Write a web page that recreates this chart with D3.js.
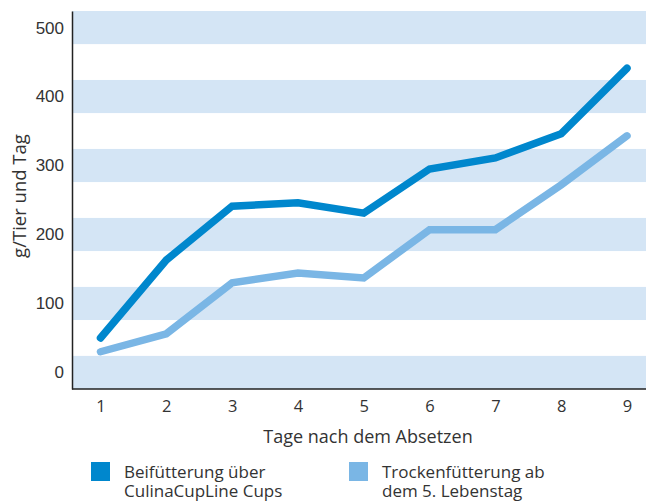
<!DOCTYPE html>
<html>
<head>
<meta charset="utf-8">
<script src="https://cdn.jsdelivr.net/npm/d3@7"></script>
<style>
  body { margin: 0; background: #fff; }
  svg text { fill: #333; }
</style>
</head>
<body>
<svg id="chart" width="647" height="501"></svg>
<script>
"use strict";

// values
const days = [1, 2, 3, 4, 5, 6, 7, 8, 9];
const beifuetterung = [50, 163, 241, 246, 231, 295, 311, 346, 441];
const trockenfuetterung = [30, 56, 130, 144, 137, 207, 207, 272, 343];
const yTicks = [0, 100, 200, 300, 400, 500];
const seriesNames = [["Beifütterung über", "CulinaCupLine Cups"],
                     ["Trockenfütterung ab", "dem 5. Lebenstag"]];
const seriesColors = ["#0087cd", "#7ab6e5"];

const plotLeft = 72, plotRight = 646, plotTop = 11, plotBottom = 389;
const bandHalf = 24;

const svg = d3.select("#chart");

const xScale = d3.scaleLinear().domain([1, 9]).range([100.5, 627]);
const yScale = d3.scaleLinear().domain([-bandHalf, 500 + bandHalf]).range([plotBottom, plotTop]);

// horizontal stripes centred on the ticks
svg.append("g").selectAll("rect")
    .data(yTicks)
    .join("rect")
    .attr("x", plotLeft)
    .attr("width", plotRight - plotLeft)
    .attr("y", v => yScale(v + bandHalf))
    .attr("height", v => yScale(v - bandHalf) - yScale(v + bandHalf))
    .attr("fill", "#d4e5f5");

// lines
const line = d3.line()
    .x((d, i) => xScale(days[i]))
    .y(d => yScale(d));

[beifuetterung, trockenfuetterung].forEach(function(series, i) {
    svg.append("path")
        .datum(series)
        .attr("d", line)
        .attr("fill", "none")
        .attr("stroke", seriesColors[i])
        .attr("stroke-width", 7.5)
        .attr("stroke-linejoin", "miter")
        .attr("stroke-linecap", "round");
});

// y axis
const yAxis = svg.append("g")
    .attr("transform", "translate(" + plotLeft + ",0)")
    .call(d3.axisLeft(yScale).tickValues(yTicks).tickSize(0).tickPadding(8).tickSizeOuter(0));
yAxis.select(".domain").attr("stroke", "#222").attr("stroke-width", 1.5);
yAxis.selectAll("text")
    .style("font-family", "'Liberation Sans', Arial, sans-serif")
    .style("font-size", "17px")
    .style("fill", "#333");

// x axis
const xAxis = svg.append("g")
    .attr("transform", "translate(0," + plotBottom + ")")
    .call(d3.axisBottom(xScale).tickValues(days).tickSize(0).tickPadding(11));
xAxis.select(".domain").remove();
xAxis.selectAll("text")
    .style("font-family", "'Open Sans', sans-serif")
    .style("font-size", "16.5px")
    .style("fill", "#333");

svg.append("line")
    .attr("x1", plotLeft).attr("x2", plotRight)
    .attr("y1", plotBottom).attr("y2", plotBottom)
    .attr("stroke", "#222")
    .attr("stroke-width", 1.5);

// axis titles
svg.append("text")
    .attr("x", 368).attr("y", 443)
    .attr("text-anchor", "middle")
    .style("font-family", "'Open Sans', sans-serif")
    .style("font-size", "18px")
    .text("Tage nach dem Absetzen");

svg.append("text")
    .attr("transform", "translate(26,196) rotate(-90)")
    .attr("text-anchor", "middle")
    .style("font-family", "'Open Sans', sans-serif")
    .style("font-size", "18.5px")
    .text("g/Tier und Tag");

// legend
const legendX = [91, 349];
seriesNames.forEach(function(lines, i) {
    const g = svg.append("g").attr("transform", "translate(" + legendX[i] + ",462)");
    g.append("rect")
        .attr("width", 19).attr("height", 19)
        .attr("fill", seriesColors[i]);
    g.selectAll("text")
        .data(lines)
        .join("text")
        .attr("x", 33)
        .attr("y", (d, j) => 16 + j * 18.5)
        .style("font-family", "'Open Sans', sans-serif")
        .style("font-size", "17px")
        .text(d => d);
});
</script>
</body>
</html>
